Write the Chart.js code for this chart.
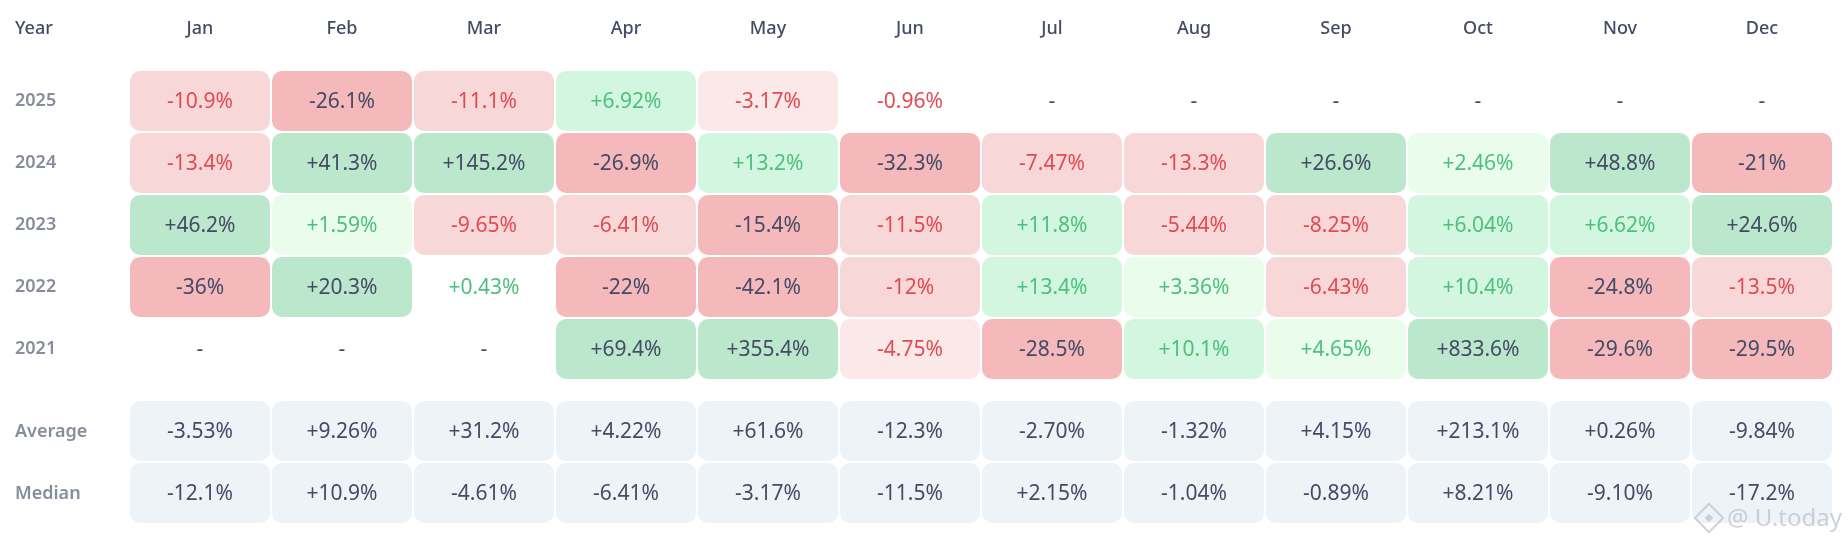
<!DOCTYPE html>
<html>
<head>
<meta charset="utf-8">
<title>Monthly returns</title>
<script src="https://cdn.jsdelivr.net/npm/chart.js@4/dist/chart.umd.min.js"></script>
<style>
  html, body { margin: 0; padding: 0; background: #fff; }
  #wrap { width: 1848px; height: 542px; }
</style>
</head>
<body>
<div id="wrap"><canvas id="chartReturns"></canvas></div>
<script>
const months = ['Jan', 'Feb', 'Mar', 'Apr', 'May', 'Jun', 'Jul', 'Aug', 'Sep', 'Oct', 'Nov', 'Dec']
const rowLabels = ['2025', '2024', '2023', '2022', '2021', 'Average', 'Median']

const returns2025 = ['-10.9%', '-26.1%', '-11.1%', '+6.92%', '-3.17%', '-0.96%', '-', '-', '-', '-', '-', '-']
const returns2024 = ['-13.4%', '+41.3%', '+145.2%', '-26.9%', '+13.2%', '-32.3%', '-7.47%', '-13.3%', '+26.6%', '+2.46%', '+48.8%', '-21%']
const returns2023 = ['+46.2%', '+1.59%', '-9.65%', '-6.41%', '-15.4%', '-11.5%', '+11.8%', '-5.44%', '-8.25%', '+6.04%', '+6.62%', '+24.6%']
const returns2022 = ['-36%', '+20.3%', '+0.43%', '-22%', '-42.1%', '-12%', '+13.4%', '+3.36%', '-6.43%', '+10.4%', '-24.8%', '-13.5%']
const returns2021 = ['-', '-', '-', '+69.4%', '+355.4%', '-4.75%', '-28.5%', '+10.1%', '+4.65%', '+833.6%', '-29.6%', '-29.5%']
const average = ['-3.53%', '+9.26%', '+31.2%', '+4.22%', '+61.6%', '-12.3%', '-2.70%', '-1.32%', '+4.15%', '+213.1%', '+0.26%', '-9.84%']
const median = ['-12.1%', '+10.9%', '-4.61%', '-6.41%', '-3.17%', '-11.5%', '+2.15%', '-1.04%', '-0.89%', '+8.21%', '-9.10%', '-17.2%']

const rows = [returns2025, returns2024, returns2023, returns2022, returns2021, average, median]

const DARK = '#434b65'
const GREY = '#868d9c'
const RED = '#e04c52'
const GREEN = '#4fbf80'
const FONT = '"Noto Sans", sans-serif'

// the summary rows sit a bit lower than the year rows
const SUMMARY_GAP = 20 / 62
const CELL_GAP = 1 / 62
const rowTop = i => i < 5 ? i : i + SUMMARY_GAP

const isSummary = i => i >= 5

const cellColor = (label, i) => {
    if (isSummary(i)) return '#eef3f8'
    const v = parseFloat(label)
    if (isNaN(v) || Math.abs(v) < 1) return 'rgba(0,0,0,0)'
    if (v >= 15) return '#bbe8cc'
    if (v >= 5) return '#d2f6df'
    if (v > 0) return '#eafdec'
    if (v <= -15) return '#f5b9bc'
    if (v <= -5) return '#f8d7d9'
    return '#fbe9ea'
}

const textColor = (label, i) => {
    if (isSummary(i)) return DARK
    const v = parseFloat(label)
    if (isNaN(v) || Math.abs(v) >= 15) return DARK
    return v > 0 ? GREEN : RED
}

// cell texts, the "Year" header and the watermark
const cellText = {
    id: 'cellText',
    afterDatasetsDraw(chart) {
        const { ctx, scales } = chart
        ctx.save()
        ctx.textAlign = 'center'
        ctx.textBaseline = 'middle'
        ctx.font = `400 21px ${FONT}`
        rows.forEach((row, i) => {
            chart.getDatasetMeta(i).data.forEach((bar, j) => {
                ctx.fillStyle = textColor(row[j], i)
                ctx.fillText(row[j], bar.x, bar.y + (bar.base - bar.y) / 2 + 1)
            })
        })

        ctx.textAlign = 'left'
        ctx.fillStyle = DARK
        ctx.font = `500 18px ${FONT}`
        ctx.fillText('Year', scales.y.left, 29)

        ctx.fillStyle = 'rgba(185,190,202,0.7)'
        ctx.font = `400 24px ${FONT}`
        ctx.fillText('@ U.today', 1727, 519)
        ctx.strokeStyle = 'rgba(185,190,202,0.7)'
        ctx.lineWidth = 2
        ctx.translate(1709, 518)
        ctx.rotate(Math.PI / 4)
        ctx.strokeRect(-10, -10, 20, 20)
        ctx.fillStyle = 'rgba(185,190,202,0.7)'
        ctx.fillRect(-3, -3, 6, 6)
        ctx.restore()
    }
}

const canvas = document.getElementById('chartReturns')

const chartReturns = new Chart(canvas.getContext('2d'), {
    type: 'bar',
    data: {
        labels: months,
        datasets: rows.map((row, i) => ({
            label: rowLabels[i],
            data: row.map(() => [rowTop(i) + CELL_GAP, rowTop(i) + 1 - CELL_GAP]),
            backgroundColor: row.map(label => cellColor(label, i)),
            borderRadius: 10,
            borderSkipped: false,
            borderWidth: 0,
            categoryPercentage: 1,
            barPercentage: 140 / 142,
            grouped: false
        }))
    },
    options: {
        responsive: true,
        maintainAspectRatio: false,
        animation: false,
        layout: { padding: { left: 15, right: 15, top: 0, bottom: 18 } },
        plugins: {
            legend: { display: false },
            tooltip: { enabled: false }
        },
        scales: {
            x: {
                position: 'top',
                grid: { display: false, drawTicks: false },
                border: { display: false },
                ticks: {
                    padding: 30,
                    color: DARK,
                    maxRotation: 0,
                    autoSkip: false,
                    font: { family: FONT, size: 18, weight: '500' }
                },
                afterFit: scale => { scale.height = 70 }
            },
            y: {
                reverse: true,
                min: 0,
                max: rowTop(6) + 1,
                grid: { display: false, drawTicks: false },
                border: { display: false },
                afterBuildTicks: scale => {
                    scale.ticks = rowLabels.map((_, i) => ({ value: rowTop(i) + 0.5 + (isSummary(i) ? 1 / 62 : 0) }))
                },
                ticks: {
                    crossAlign: 'far',
                    padding: 0,
                    autoSkip: false,
                    color: GREY,
                    font: { family: FONT, size: 18, weight: '600' },
                    callback: (value, index) => rowLabels[index]
                },
                afterFit: scale => { scale.width = 114 }
            }
        }
    },
    plugins: [cellText]
})
</script>
</body>
</html>
